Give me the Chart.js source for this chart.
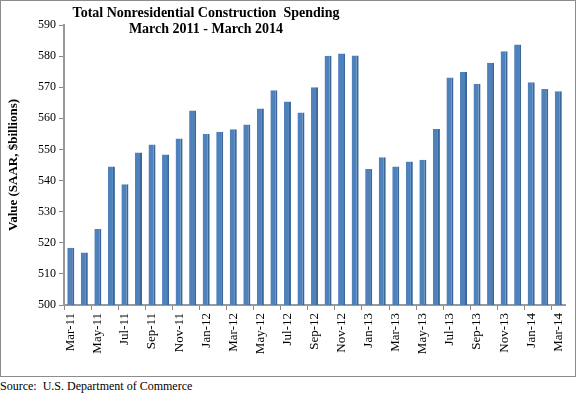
<!DOCTYPE html>
<html>
<head>
<meta charset="utf-8">
<script src="https://cdn.jsdelivr.net/npm/chart.js@4/dist/chart.umd.min.js"></script>
<style>
  body { margin: 0; background: #fff; font-family: "Liberation Serif", "Times New Roman", serif; }
  #wrap { position: relative; width: 577px; height: 393px; overflow: hidden; }
  #frame { position: absolute; left: 0; top: 0; width: 576px; height: 377px; box-sizing: border-box; border: 1px solid #8c8c8c; }
  #chartBox { position: absolute; left: 0; top: 0; width: 577px; height: 375px; }
  .title { position: absolute; left: 0; width: 412px; text-align: center; font-weight: bold; font-size: 14px; color: #000; }
  #source { position: absolute; left: 0; top: 379px; font-size: 12px; color: #000; white-space: pre; }
</style>
</head>
<body>
<div id="wrap">
  <div id="frame"></div>
  <div id="chartBox"><canvas id="chart"></canvas></div>
  <div class="title" style="top:5px">Total Nonresidential Construction&nbsp; Spending</div>
  <div class="title" style="top:21px">March 2011 - March 2014</div>
  <div id="source">Source:  U.S. Department of Commerce</div>
</div>
<script>
const months = ['Mar-11','Apr-11','May-11','Jun-11','Jul-11','Aug-11','Sep-11','Oct-11','Nov-11','Dec-11',
  'Jan-12','Feb-12','Mar-12','Apr-12','May-12','Jun-12','Jul-12','Aug-12','Sep-12','Oct-12','Nov-12','Dec-12',
  'Jan-13','Feb-13','Mar-13','Apr-13','May-13','Jun-13','Jul-13','Aug-13','Sep-13','Oct-13','Nov-13','Dec-13',
  'Jan-14','Feb-14','Mar-14'];

// SAAR, $ billions
const spending = [518.4, 516.9, 524.4, 544.5, 538.8, 549.0, 551.6, 548.4, 553.5, 562.5,
  555.0, 555.7, 556.5, 558.0, 563.2, 569.0, 565.4, 561.9, 570.0, 580.1, 580.8, 580.2,
  543.7, 547.5, 544.5, 546.1, 546.7, 556.6, 573.1, 574.9, 571.1, 577.9, 581.6, 583.7,
  571.6, 569.4, 568.7];

const yMin = 500, yMax = 590, yStep = 10;

const serif = '"Liberation Serif", "Times New Roman", serif';

new Chart(document.getElementById('chart'), {
  type: 'bar',
  data: {
    labels: months,
    datasets: [{
      data: spending,
      backgroundColor: '#4f81bd',
      borderColor: '#3a6797',
      borderWidth: { right: 2, left: 0, top: 0, bottom: 0 },
      borderSkipped: false,
      categoryPercentage: 1,
      barPercentage: 0.52
    }]
  },
  options: {
    responsive: true,
    maintainAspectRatio: false,
    animation: false,
    layout: { padding: { top: 25, right: 8, left: 0, bottom: 0 } },
    plugins: { legend: { display: false }, tooltip: { enabled: false } },
    scales: {
      x: {
        grid: {
          drawOnChartArea: false,
          tickLength: 5,
          color: ctx => (ctx.index % 2 === 0 ? '#888' : 'rgba(0,0,0,0)')
        },
        border: { color: '#999', width: 2 },
        ticks: {
          autoSkip: false,
          maxRotation: 90,
          minRotation: 90,
          color: '#000',
          font: { family: serif, size: 13 },
          padding: 3,
          callback: (v, i) => (i % 2 === 0 ? months[i] : '')
        },
        afterFit: s => { s.height = 70; }
      },
      y: {
        min: yMin,
        max: yMax,
        grid: { drawOnChartArea: false, tickLength: 5, color: '#888' },
        border: { color: '#999', width: 2 },
        ticks: { stepSize: yStep, color: '#000', font: { family: serif, size: 12 }, padding: 3 },
        title: {
          display: true,
          text: 'Value (SAAR, $billions)',
          color: '#000',
          font: { family: serif, size: 13, weight: 'bold' },
          padding: { top: 6, bottom: 0 }
        },
        afterFit: s => { s.width = 64; }
      }
    }
  }
});
</script>
</body>
</html>
